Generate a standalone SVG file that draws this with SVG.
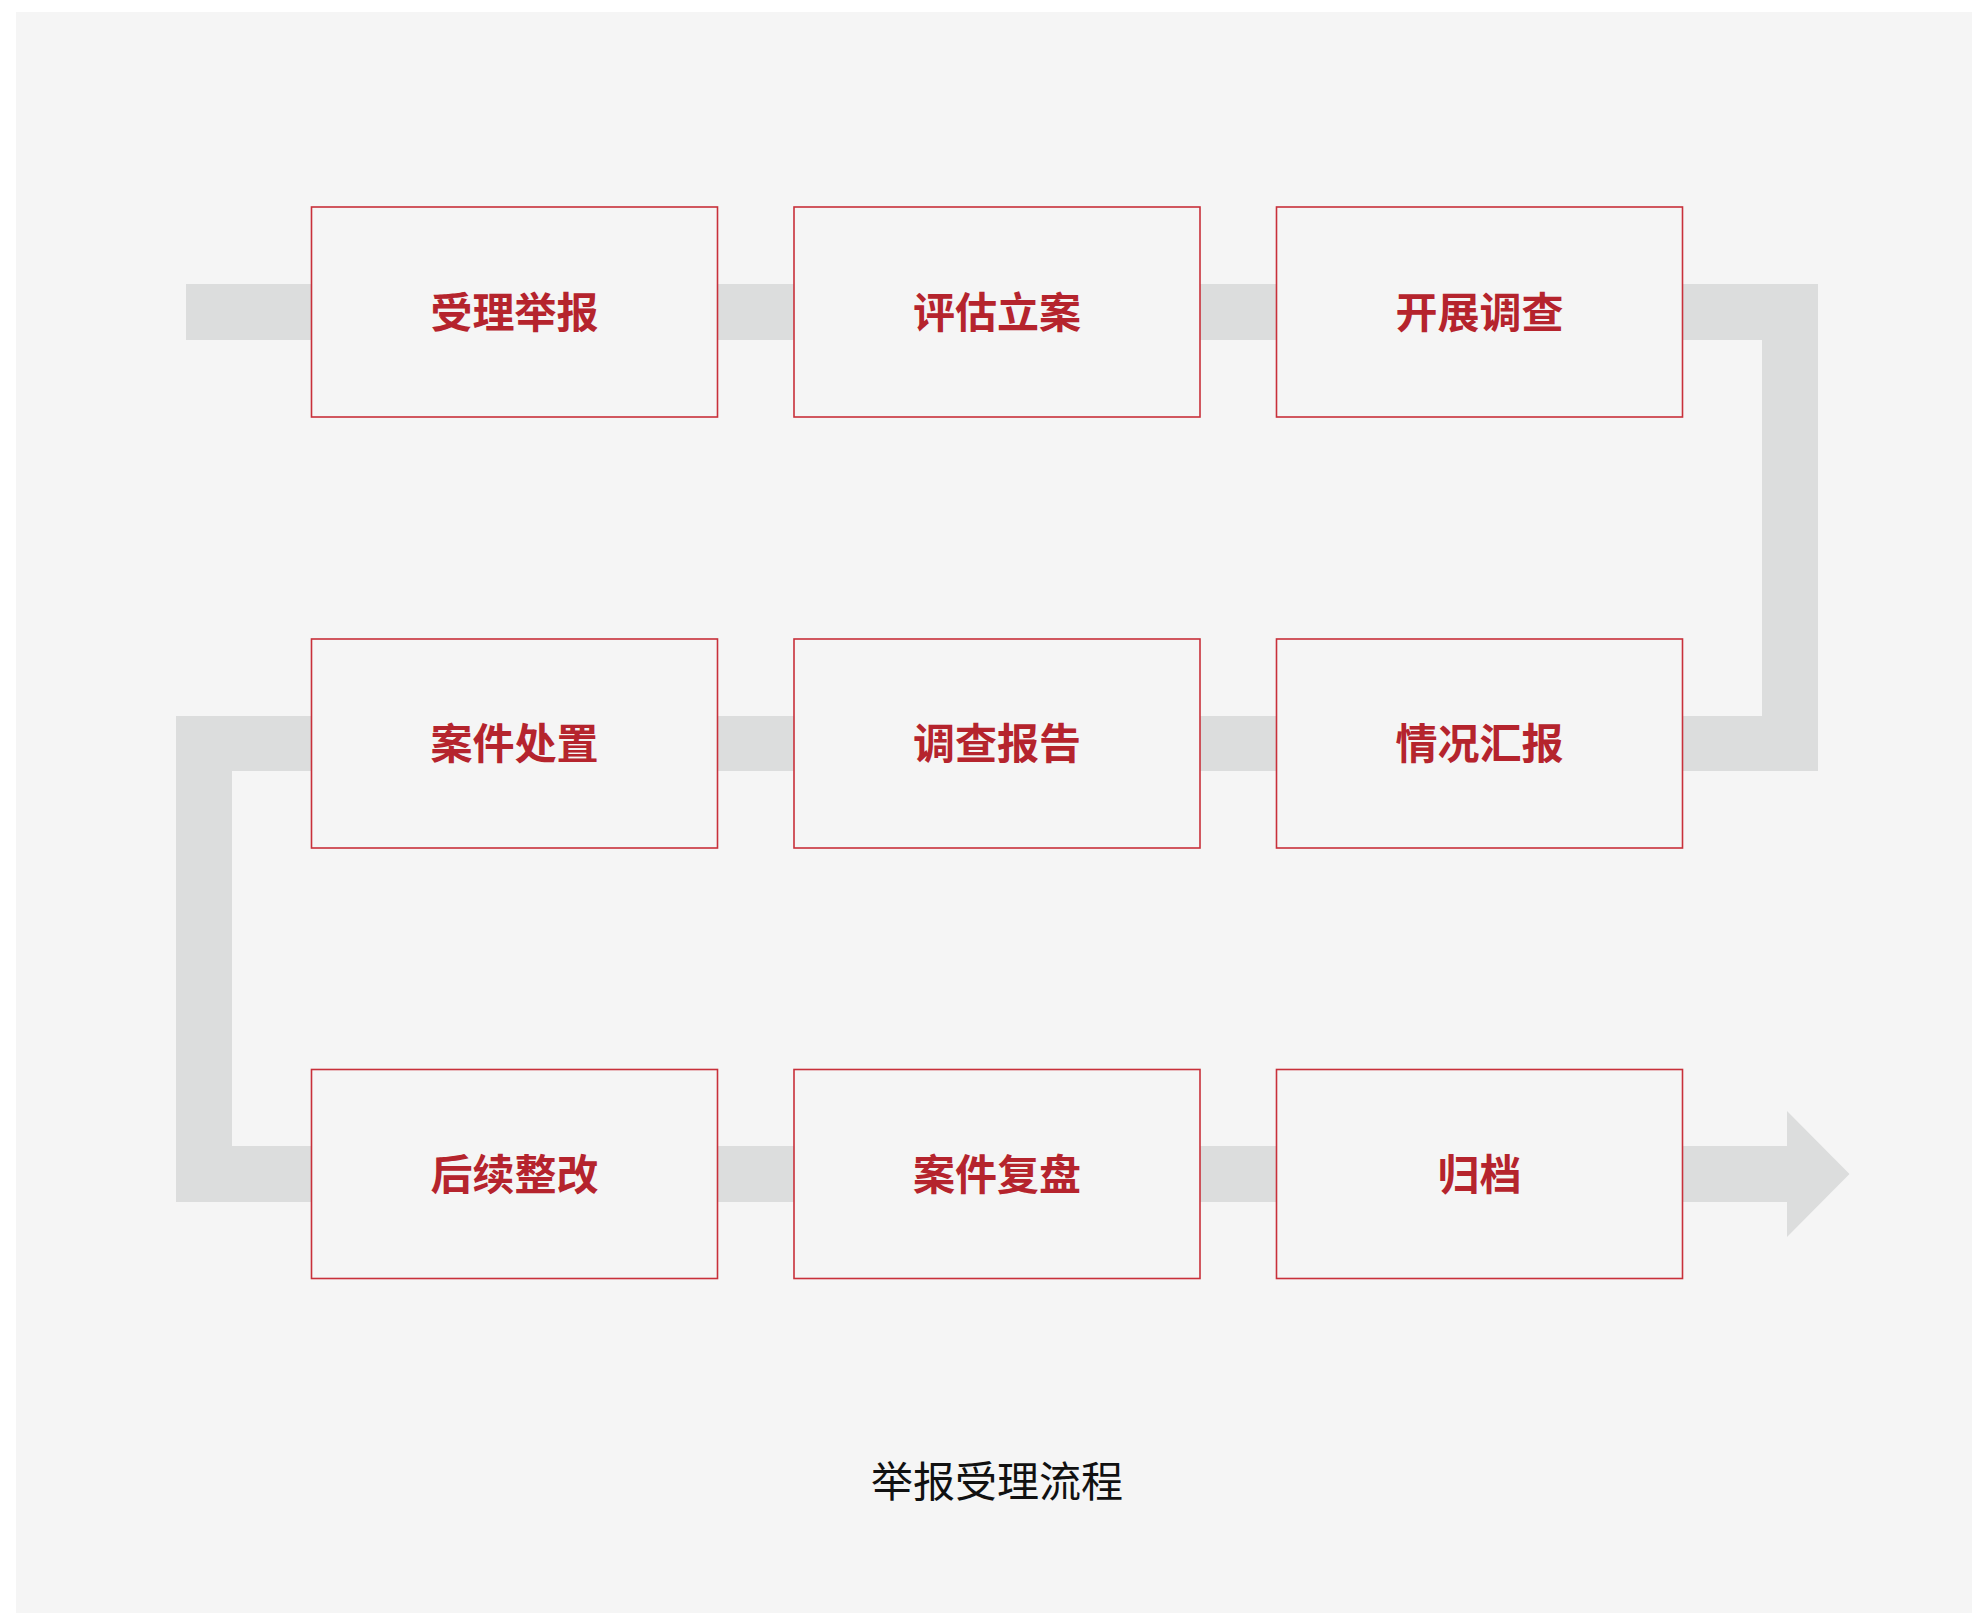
<svg xmlns="http://www.w3.org/2000/svg" width="1972" height="1613" viewBox="0 0 1972 1613">
<style>
.node rect{fill:#f5f5f5;stroke:#c8303a;stroke-width:1.6}
.node text{font-family:"Noto Sans CJK SC","Noto Sans",sans-serif;font-weight:700;font-size:42px;fill:#b5242d;text-anchor:middle;dominant-baseline:central}
.flow{fill:#dcdddd}
.title{font-family:"Noto Sans CJK SC","Noto Sans",sans-serif;font-size:42px;fill:#111;text-anchor:middle;dominant-baseline:central}
</style>
<rect x="0" y="0" width="1972" height="1613" fill="#ffffff"/>
<rect x="16" y="12" width="1956" height="1601" fill="#f5f5f5"/>
<g id="connectors">
<path class="flow" d="M186 284 H1818 V771 H232 V1146 H1787 V1111 L1849.5 1174 L1787 1237 V1202 H176 V716 H1762 V340 H186 Z"/>
</g>
<g id="n1" class="node"><rect x="311.5" y="207" width="406" height="210"/><text x="514.5" y="309">受理举报</text></g>
<g id="n2" class="node"><rect x="794" y="207" width="406" height="210"/><text x="997" y="309">评估立案</text></g>
<g id="n3" class="node"><rect x="1276.5" y="207" width="406" height="210"/><text x="1479.5" y="309">开展调查</text></g>
<g id="n4" class="node"><rect x="1276.5" y="639" width="406" height="209"/><text x="1479.5" y="740.5">情况汇报</text></g>
<g id="n5" class="node"><rect x="794" y="639" width="406" height="209"/><text x="997" y="740.5">调查报告</text></g>
<g id="n6" class="node"><rect x="311.5" y="639" width="406" height="209"/><text x="514.5" y="740.5">案件处置</text></g>
<g id="n7" class="node"><rect x="311.5" y="1069.5" width="406" height="209"/><text x="514.5" y="1171">后续整改</text></g>
<g id="n8" class="node"><rect x="794" y="1069.5" width="406" height="209"/><text x="997" y="1171">案件复盘</text></g>
<g id="n9" class="node"><rect x="1276.5" y="1069.5" width="406" height="209"/><text x="1479.5" y="1171">归档</text></g>
<text class="title" x="997" y="1478">举报受理流程</text>
</svg>
